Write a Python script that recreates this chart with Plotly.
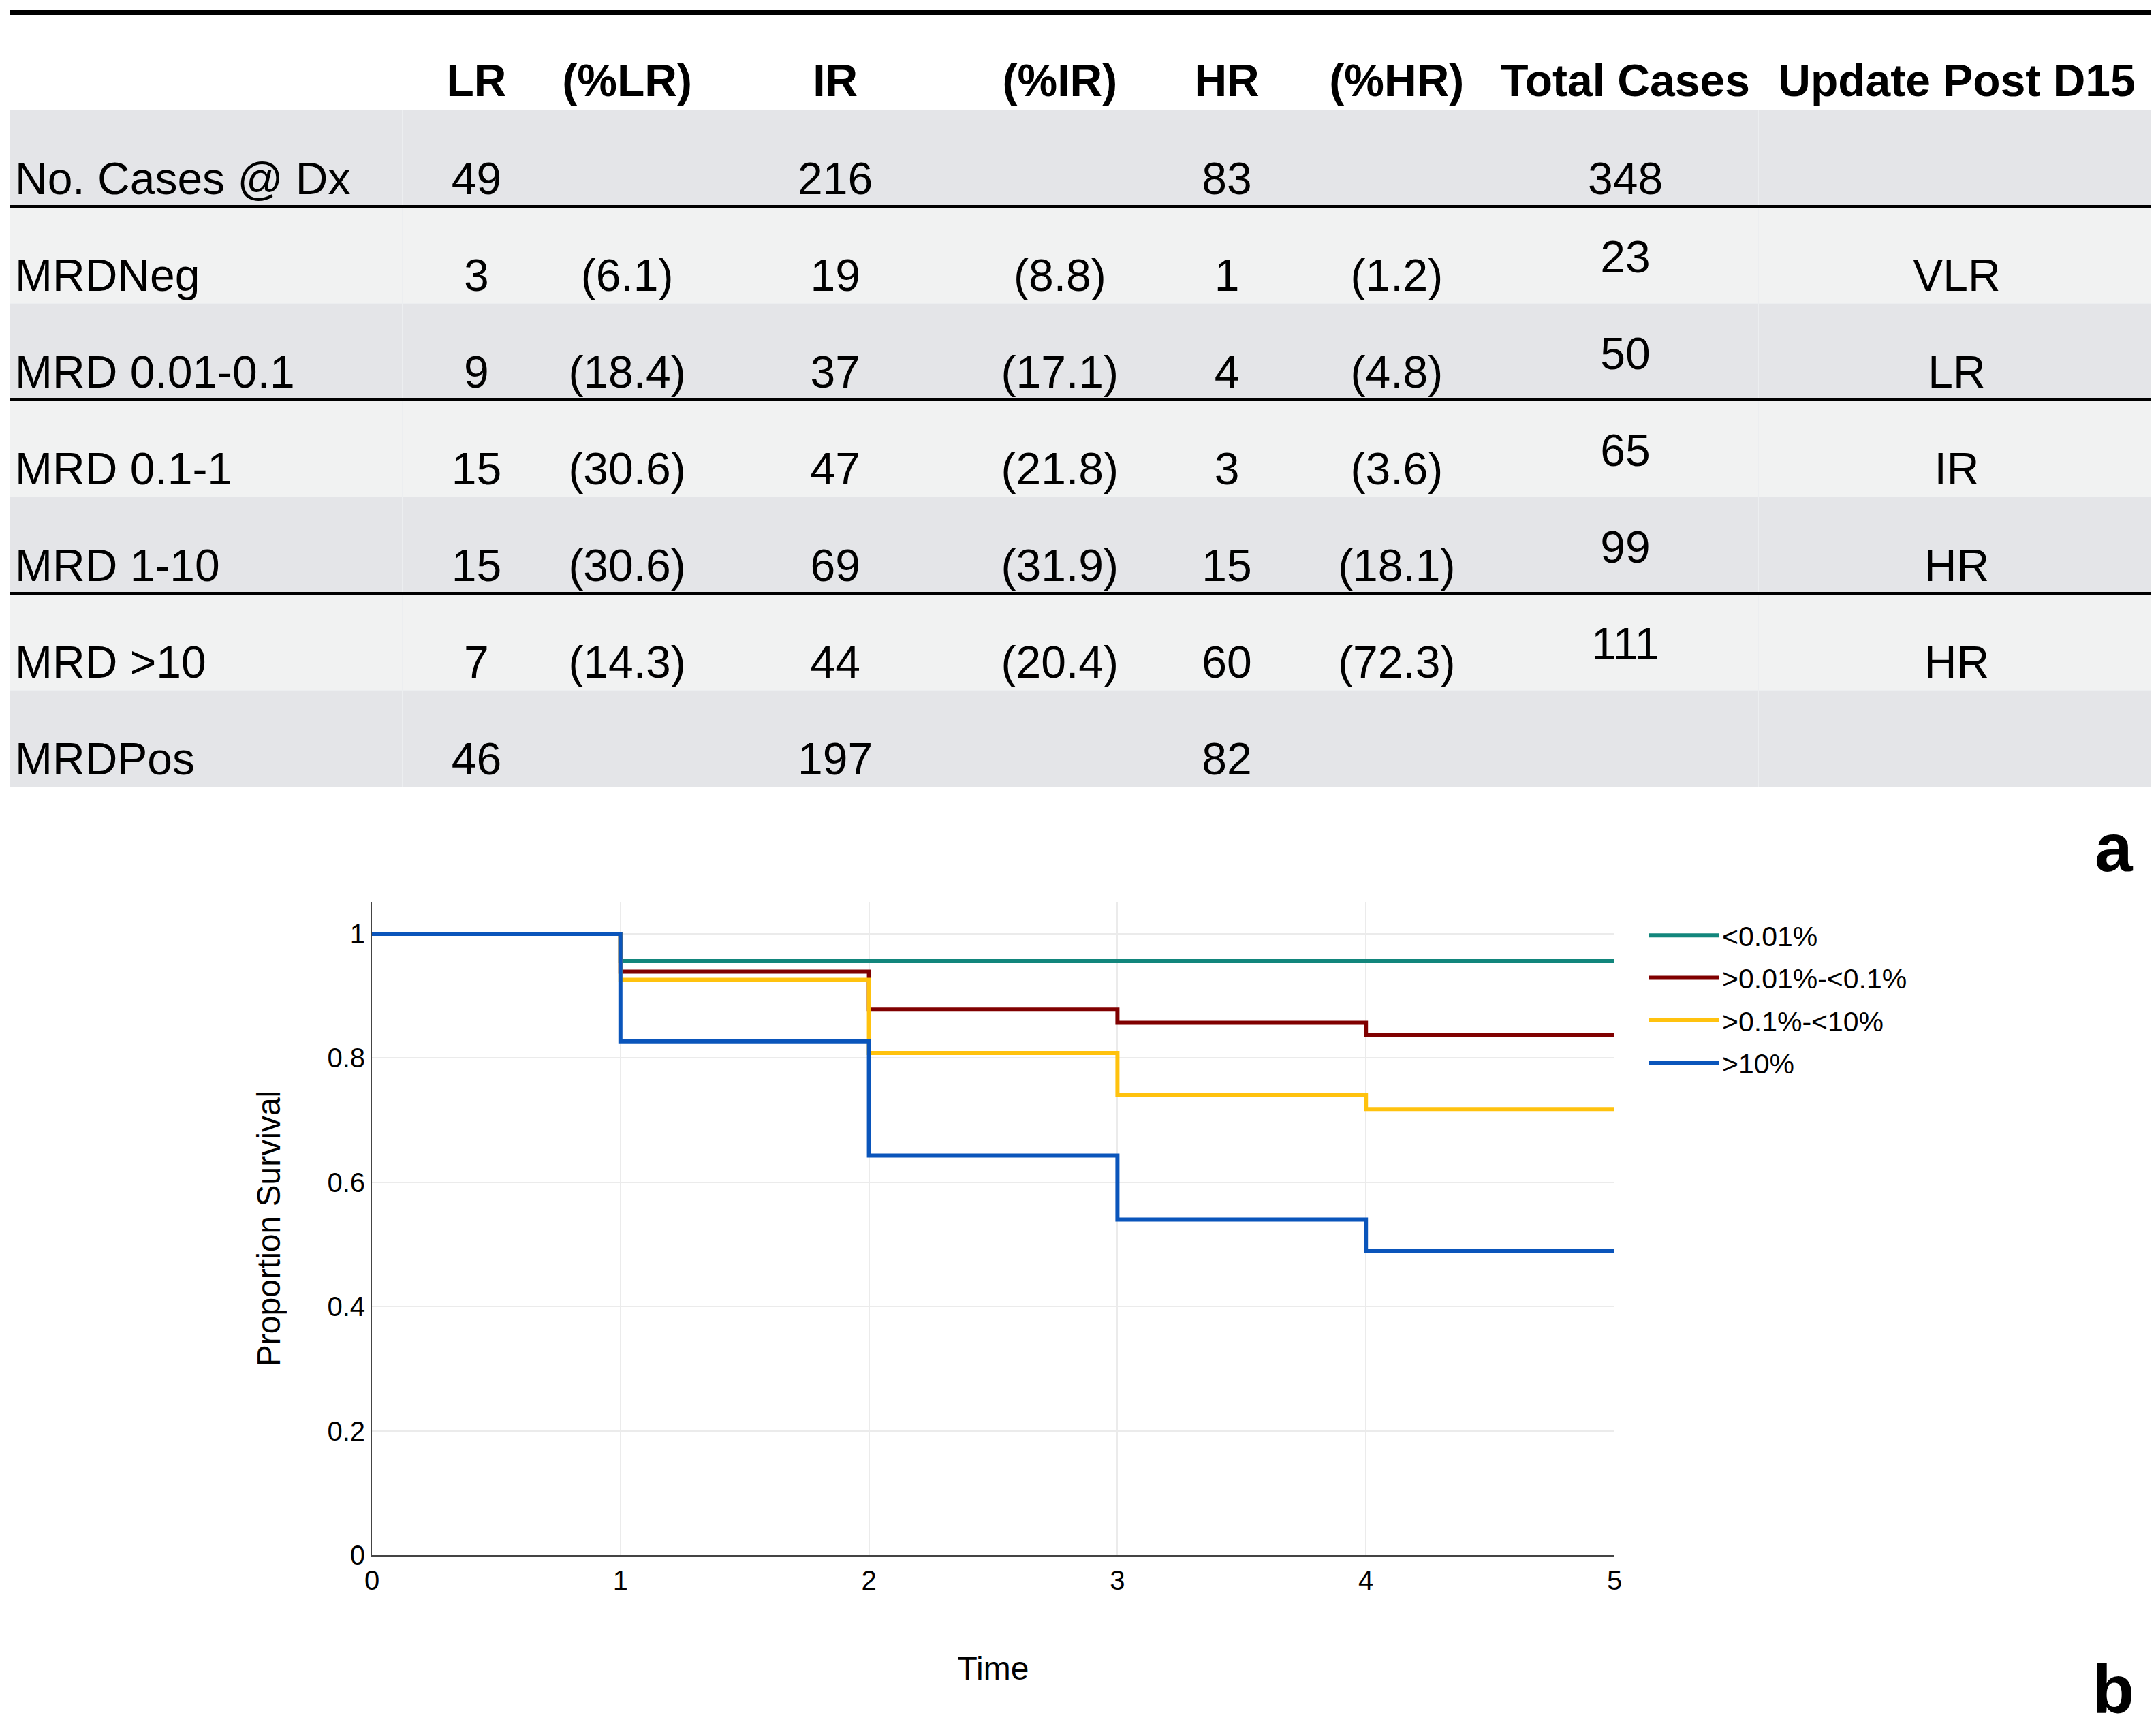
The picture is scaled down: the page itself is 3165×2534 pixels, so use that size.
import plotly.graph_objects as go

W, H = 3165, 2534

# ---- table data (panel a) ----
header = ["", "LR", "(%LR)", "IR", "(%IR)", "HR", "(%HR)", "Total Cases", "Update Post D15"]
row_labels = ["No. Cases @ Dx", "MRDNeg", "MRD 0.01-0.1", "MRD 0.1-1", "MRD 1-10", "MRD >10", "MRDPos"]
lr = ["49", "3", "9", "15", "15", "7", "46"]
pct_lr = ["", "(6.1)", "(18.4)", "(30.6)", "(30.6)", "(14.3)", ""]
ir = ["216", "19", "37", "47", "69", "44", "197"]
pct_ir = ["", "(8.8)", "(17.1)", "(21.8)", "(31.9)", "(20.4)", ""]
hr = ["83", "1", "4", "3", "15", "60", "82"]
pct_hr = ["", "(1.2)", "(4.8)", "(3.6)", "(18.1)", "(72.3)", ""]
total_dx = ["348", "", "", "", "", "", ""]
total_mrd = ["", "23", "50", "65", "99", "111", ""]
update_d15 = ["", "VLR", "LR", "IR", "HR", "HR", ""]

# ---- survival data (panel b) ----
time = [0, 1, 2, 3, 4, 5]
groups = ["<0.01%", ">0.01%-<0.1%", ">0.1%-<10%", ">10%"]
surv_neg = [1.0, 0.956, 0.956, 0.956, 0.956, 0.956]
surv_low = [1.0, 0.939, 0.878, 0.857, 0.837, 0.837]
surv_mid = [1.0, 0.926, 0.808, 0.741, 0.718, 0.718]
surv_high = [1.0, 0.827, 0.643, 0.540, 0.489, 0.489]
colors = ["#12867c", "#800000", "#ffc20e", "#0a55bb"]

FONT = "Liberation Sans"
DARK, LIGHT = "#e4e5e8", "#f1f2f2"
CLEAR = "rgba(0,0,0,0)"


def py(px):
    # pixel row from the top -> paper y
    return 1 - px / H


def span(col):
    # every cell through the same markup path so they line up
    return ["<span>%s</span>" % v if v else "" for v in col]


col_w = [287, 108, 112, 192, 136, 108, 140, 194, 290]
x_dom = [6 / W, 3156 / W]
n_rows = len(row_labels)
row_fill = [DARK if i % 2 == 0 else LIGHT for i in range(n_rows)]

fig = go.Figure()

# striped background, grouped columns
grp_w = [287, 220, 328, 248, 194, 290]
fig.add_trace(go.Table(
    domain=dict(x=x_dom, y=[py(1165), py(20)]),
    columnwidth=grp_w,
    header=dict(values=[""] * len(grp_w), height=133, fill_color="white",
                line=dict(width=0)),
    cells=dict(values=[[""] * n_rows] * len(grp_w), height=142,
               fill_color=[row_fill] * len(grp_w),
               line=dict(color="#eceef0", width=1)),
))

# text layer (sits low in each row, as in the original)
nb = lambda s: s.replace(" ", "\u00a0")
cols = [row_labels, lr, pct_lr, ir, pct_ir, hr, pct_hr, total_dx, update_d15]
fig.add_trace(go.Table(
    domain=dict(x=x_dom, y=[py(1240), py(65)]),
    columnwidth=col_w,
    header=dict(values=["<b>%s</b>" % nb(h) for h in header], height=144,
                fill_color=CLEAR, line=dict(width=0),
                align=["left"] + ["center"] * 8,
                font=dict(family=FONT, size=66, color="black")),
    cells=dict(values=[span(c) for c in cols],
               height=142, fill_color=CLEAR, line=dict(width=0),
               align=["left"] + ["center"] * 8,
               font=dict(family=FONT, size=66, color="black")),
))

# total cases for MRD rows sit a little higher
blank = [""] * n_rows
fig.add_trace(go.Table(
    domain=dict(x=x_dom, y=[py(1210), py(20)]),
    columnwidth=col_w,
    header=dict(values=[""] * 9, height=172, fill_color=CLEAR, line=dict(width=0)),
    cells=dict(values=[blank] * 7 + [total_mrd, blank], height=142,
               fill_color=CLEAR, line=dict(width=0), align="center",
               font=dict(family=FONT, size=66, color="black")),
))

# survival curves
for name, ys, c in zip(groups, [surv_neg, surv_low, surv_mid, surv_high], colors):
    fig.add_trace(go.Scatter(x=time, y=ys, name=name, mode="lines", legendgroup=name,
                             line=dict(color=c, width=6, shape="hv")))

# table rules
shapes = [dict(type="line", xref="paper", yref="paper", x0=x_dom[0], x1=1,
               y0=py(10), y1=py(10), line=dict(color="black", width=8))]
for ypx in [295, 579, 863]:
    shapes.append(dict(type="line", xref="paper", yref="paper", x0=x_dom[0], x1=x_dom[1],
                       y0=py(ypx), y1=py(ypx), line=dict(color="black", width=4)))

fig.update_layout(
    width=W, height=H,
    margin=dict(l=0, r=0, t=0, b=0),
    paper_bgcolor="white", plot_bgcolor="white",
    font=dict(family=FONT, color="black"),
    shapes=shapes,
    legend=dict(x=2408 / W, y=py(1332), xanchor="left", yanchor="top",
                font=dict(family=FONT, size=41, color="black"),
                itemwidth=102, tracegroupgap=6, bgcolor=CLEAR),
    annotations=[
        dict(text="<b>a</b>", x=3095 / W, y=py(1236), xref="paper", yref="paper",
             xanchor="center", yanchor="middle", showarrow=False,
             font=dict(family=FONT, size=100, color="black")),
        dict(text="<b>b</b>", x=3094 / W, y=py(2472), xref="paper", yref="paper",
             xanchor="center", yanchor="middle", showarrow=False,
             font=dict(family=FONT, size=100, color="black")),
    ],
)

fig.update_xaxes(domain=[538 / W, 2362 / W], range=[0, 5], tickvals=time,
                 showgrid=True, gridcolor="#ebebeb", gridwidth=2, zeroline=False,
                 showline=True, linecolor="#444444", linewidth=3, ticks="",
                 tickfont=dict(size=40), automargin=False,
                 title=dict(text="Time", font=dict(size=48), standoff=92))
fig.update_yaxes(domain=[py(2275), py(1316)], range=[0, 1.0515],
                 tickvals=[0, 0.2, 0.4, 0.6, 0.8, 1],
                 showgrid=True, gridcolor="#ebebeb", gridwidth=2, zeroline=False,
                 showline=True, linecolor="#444444", linewidth=2, ticks="",
                 tickfont=dict(size=40), automargin=False,
                 title=dict(text="Proportion Survival", font=dict(size=48), standoff=54))

fig.write_html("out.html")
